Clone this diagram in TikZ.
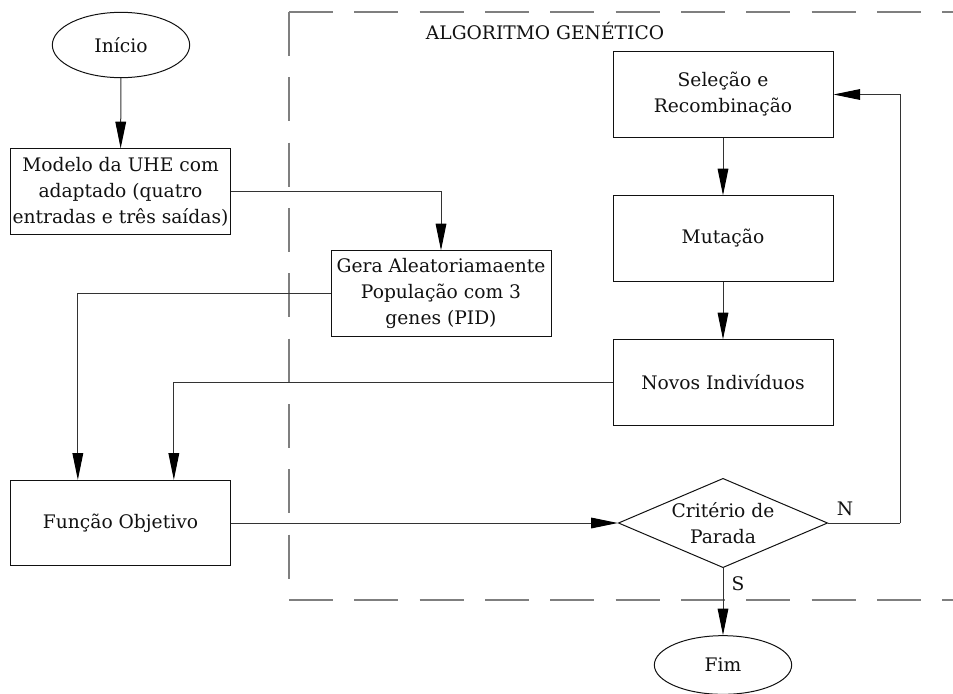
\documentclass[tikz,border=0pt]{standalone}
\usepackage{fontspec}
\setmainfont{DejaVu Serif}
\usepackage{xcolor}
\usepackage{tikz}
\usetikzlibrary{arrows.meta,shapes.geometric}
\definecolor{ink}{HTML}{111111}
\definecolor{wire}{HTML}{333333}
\definecolor{group}{HTML}{7F7F7F}
\tikzset{
  box/.style={draw=ink, line width=0.75pt, rectangle, align=center,
    minimum width=165pt, minimum height=64pt, inner sep=1pt},
  term/.style={draw=ink, line width=0.75pt, ellipse, minimum width=103pt,
    minimum height=49pt, inner sep=0pt},
  cond/.style={draw=ink, line width=0.75pt, diamond, minimum width=157pt,
    minimum height=67pt, inner sep=0pt},
  flow/.style={draw=wire, line width=0.75pt,
    -{Triangle[length=20pt,width=8pt,color=black,fill=black]}},
  line/.style={draw=wire, line width=0.75pt},
  grp/.style={draw=group, line width=0.9pt, dash pattern=on 33pt off 16pt},
  labm/.style={align=center},
  every node/.style={text=ink, font=\fontsize{14pt}{19.5pt}\selectfont}
}
\begin{document}
\begin{tikzpicture}[x=0.75pt,y=-0.75pt]
  \useasboundingbox (0,0) rectangle (953,693);

  % area do algoritmo genetico
  \draw[grp] (289,12) -- (953,12);
  \draw[grp] (289,12) -- (289,600) -- (953,600);
  \node[labm] (titulo) at (545,31) {ALGORITMO GENÉTICO};

  \node[term] (inicio) at (121,45) {Início};
  \node[box] (modelo) at (120.5,191.5) {Modelo da UHE com\\adaptado (quatro\\entradas e três saídas)};
  \node[box] (gera) at (441,293.5) {Gera Aleatoriamaente\\População com 3\\genes (PID)};
  \node[box] (funcao) at (120.5,523) {Função Objetivo};

  \node[box] (selecao) at (723,94.5) {Seleção e\\Recombinação};
  \node[box] (mutacao) at (723,238.5) {Mutação};
  \node[box] (novos) at (723,382.5) {Novos Indivíduos};
  \node[cond] (crit) at (723,523) {};
  \node[labm] (crittxt) at (723,523) {Critério de\\Parada};
  \node[term, minimum height=44pt] (fim) at (723,665) {Fim};

  \coordinate (retorno) at (900,523);

  \draw[flow] (inicio) -- (modelo);
  \draw[flow] (modelo.east) -| (gera.north);
  \draw[flow] (gera.west) -| ([xshift=-32pt]funcao.north);
  \draw[flow] (novos.west) -| ([xshift=40pt]funcao.north);
  \draw[flow] (funcao.east) -- (crit.west);
  \draw[flow] (selecao) -- (mutacao);
  \draw[flow] (mutacao) -- (novos);
  \draw[line] (crit.east) -- (retorno);
  \draw[flow] (retorno) |- (selecao.east);
  \draw[flow] (crit.south) -- (fim.north);

  \node[labm] (rotn) at (845,509) {N};
  \node[labm] (rots) at (738,584) {S};
\end{tikzpicture}
\end{document}
